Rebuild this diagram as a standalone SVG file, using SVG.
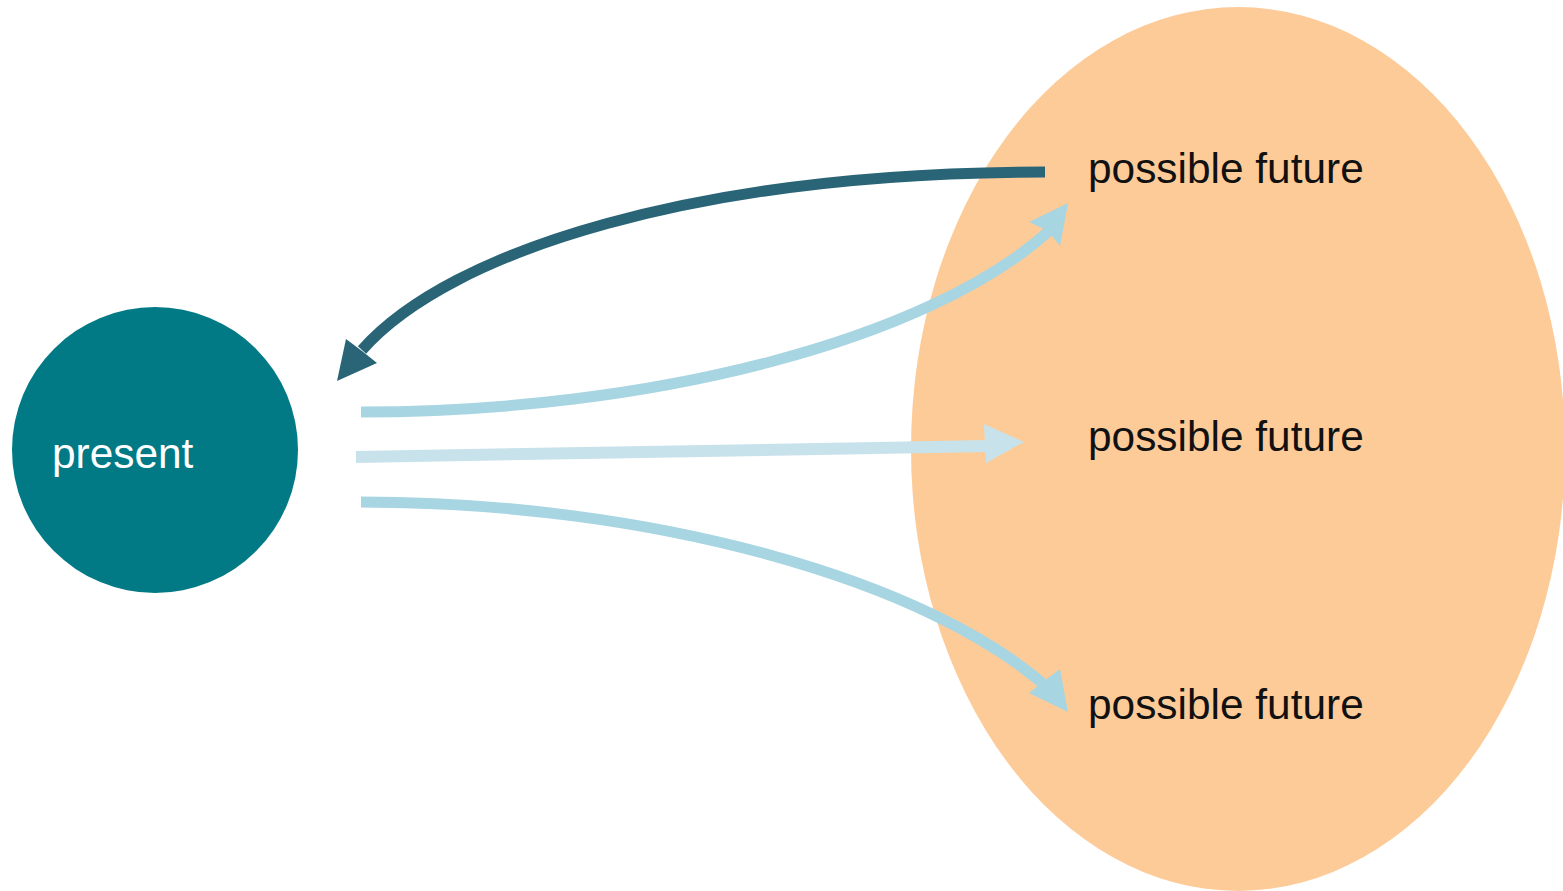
<svg xmlns="http://www.w3.org/2000/svg" width="1563" height="891" viewBox="0 0 1563 891">
<style>
.lbl{font-family:"Liberation Sans",Arial,sans-serif;font-size:42.4px;fill:#111}
.pres{font-family:"Liberation Sans",Arial,sans-serif;font-size:42.4px;fill:#fff}
.conn{fill:none;stroke-width:11}
</style>
<rect width="1563" height="891" fill="#fff"/>
<g id="futures">
<ellipse cx="1238" cy="449" rx="327" ry="442" fill="#FDCB98"/>
</g>
<g id="present">
<circle cx="155" cy="450" r="143" fill="#017A86"/>
<text class="pres" x="52" y="468">present</text>
</g>
<g id="connectors">
<path class="conn" stroke="#2A6577" d="M1045,172 C700,172 450,250 362,350"/>
<polygon fill="#2A6577" points="337,381 346,339 362,351 377,363"/>
<path class="conn" stroke="#A8D5E2" d="M361,412 C650,412 930,340 1050,230"/>
<polygon fill="#A8D5E2" points="1068,203 1060,246 1048,231 1029,222"/>
<path fill="none" stroke="#C8E2EB" stroke-width="12" d="M356,457 L988,446"/>
<polygon fill="#C8E2EB" points="1024,442 986,463 984,424"/>
<path class="conn" stroke="#A8D5E2" d="M361,502 C650,502 930,580 1050,690"/>
<polygon fill="#A8D5E2" points="1068,712 1029,693 1048,678 1060,669"/>
</g>
<g id="label1"><text class="lbl" x="1088" y="183">possible future</text></g>
<g id="label2"><text class="lbl" x="1088" y="451">possible future</text></g>
<g id="label3"><text class="lbl" x="1088" y="719">possible future</text></g>
</svg>
